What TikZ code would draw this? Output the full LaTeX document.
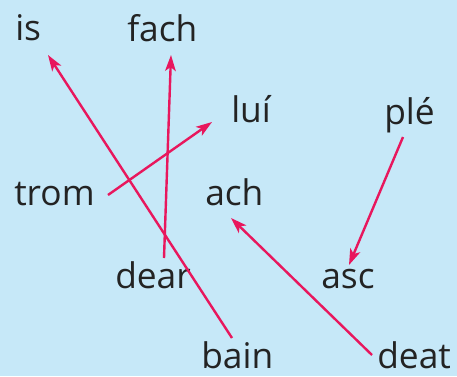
\documentclass[tikz,border=0pt]{standalone}
\usepackage{fontspec}
\setmainfont{Open Sans}
\usetikzlibrary{arrows.meta}
\definecolor{bgblue}{HTML}{C6E8F8}
\definecolor{linkred}{HTML}{E8175D}
\definecolor{inkgrey}{HTML}{232323}

\begin{document}
\begin{tikzpicture}[x = 0.75pt, y = -0.75pt,
	word/.style = {anchor = base west, inner sep = 0pt, text = inkgrey, font = \fontsize{26.5}{30}\selectfont},
	link/.style = {draw = linkred, line width = 1.8pt, -{Stealth[length = 12pt, width = 8pt, inset = 3pt]}}]
	\fill[bgblue] (0, 0) rectangle (457, 376);
	\useasboundingbox (0, 0) rectangle (457, 376);
	% words
	\node[word] (is) at (15, 40) {is};
	\node[word] (fach) at (127, 41) {fach};
	\node[word] (lui) at (231, 122) {luí};
	\node[word] (ple) at (384, 124) {plé};
	\node[word] (trom) at (14, 205) {trom};
	\node[word] (ach) at (205, 205) {ach};
	\node[word] (dear) at (115, 288) {dear};
	\node[word] (asc) at (321, 288) {asc};
	\node[word] (bain) at (201, 368) {bain};
	\node[word] (deat) at (377, 368) {deat};
	% ends of the links
	\coordinate (bainS) at (232, 338);
	\coordinate (isT) at (48, 55);
	\coordinate (dearS) at (164, 258);
	\coordinate (fachT) at (171, 55);
	\coordinate (tromS) at (108, 195);
	\coordinate (luiT) at (212, 122);
	\coordinate (pleS) at (403, 137);
	\coordinate (ascT) at (349, 265);
	\coordinate (deatS) at (372, 355);
	\coordinate (achT) at (231, 218);
	\foreach \s/\t in {bainS/isT, dearS/fachT, tromS/luiT, pleS/ascT, deatS/achT}
	\draw[link] (\s) -- (\t);
\end{tikzpicture}
\end{document}
